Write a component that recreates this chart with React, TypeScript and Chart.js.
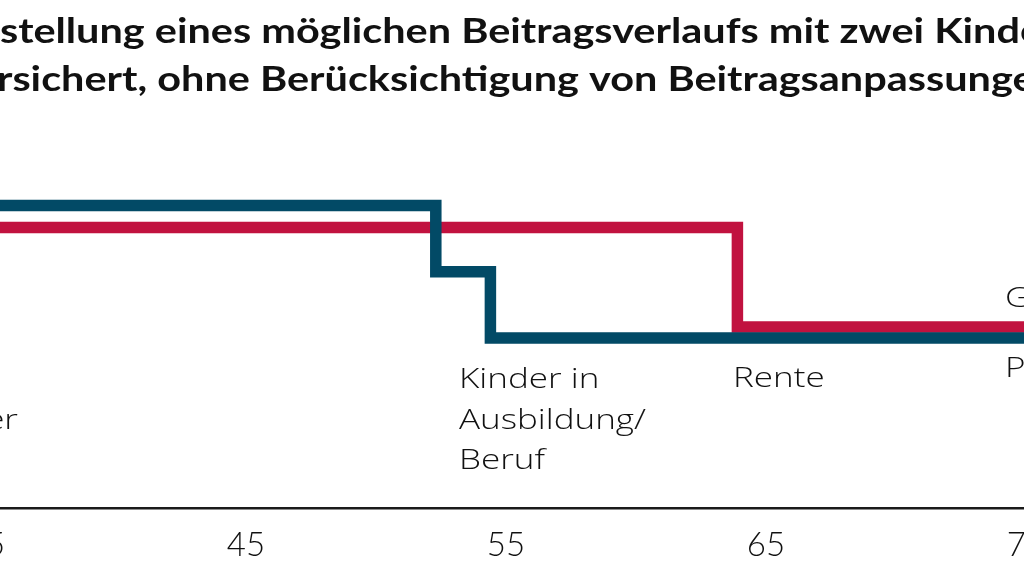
import React, { useEffect, useRef } from 'react';
import { Chart, registerables } from 'chart.js';

Chart.register(...registerables);

// ---- data ----
const tickAges = [35, 45, 55, 65, 75];
const tickLabels = ['35', '45', '55', '65', '75'];

const pkvAges = [35, 52.3, 54.4, 75];
const pkvValues = [89, 69.5, 50, 50];

const gkvAges = [35, 63.9, 75];
const gkvValues = [82.5, 53.2, 53.2];

const seriesNames = ['PKV', 'GKV'];
const seriesColors = ['#024a66', '#c1123f'];

const titleLines = [
  'Darstellung eines möglichen Beitragsverlaufs mit zwei Kindern',
  'mitversichert, ohne Berücksichtigung von Beitragsanpassungen',
];

const phaseLabels = [
  { lines: ['Zwei', 'Kinder'] },
  { lines: ['Kinder in', 'Ausbildung/', 'Beruf'] },
  { lines: ['Rente'] },
];
const seriesLabels = ['GKV', 'PKV'];

// ---- layout (viewport pixels) ----
const VIEW_W = 1024;
const VIEW_H = 585;
const OFF = 100; // canvas shifted left by this amount
const CANVAS_W = 1260;
const AXIS_Y = 508;

const TITLE_FONT = 'Lato, "Open Sans", sans-serif';
const LABEL_FONT = '"Open Sans", Lato, sans-serif';

function drawScaled(ctx: CanvasRenderingContext2D, text: string, x: number, y: number, sx: number) {
  ctx.save();
  ctx.translate(x, y);
  ctx.scale(sx, 1);
  ctx.fillText(text, 0, 0);
  ctx.restore();
}

const textPlugin = {
  id: 'textOverlay',
  afterDraw(chart: any) {
    const ctx: CanvasRenderingContext2D = chart.ctx;
    ctx.save();
    ctx.fillStyle = '#111111';
    ctx.textBaseline = 'alphabetic';
    ctx.textAlign = 'left';

    // Title: visible part of line 1 ("stellung ... Kind") spans ~5..1018
    ctx.font = `700 34px ${TITLE_FONT}`;
    const vis1 = titleLines[0].slice(3, titleLines[0].length - 3);
    const tsx = 1020 / ctx.measureText(vis1).width;
    const pre1 = ctx.measureText(titleLines[0].slice(0, 3)).width * tsx;
    drawScaled(ctx, titleLines[0], OFF + 0 - pre1, 43, tsx);
    const pre2 = ctx.measureText(titleLines[1].slice(0, 5)).width * tsx;
    drawScaled(ctx, titleLines[1], OFF - 3 - pre2, 91, tsx);

    // Phase labels (light), width fitted on "Ausbildung/" = 187px
    ctx.font = `300 28px ${LABEL_FONT}`;
    const lsx = 187 / ctx.measureText(phaseLabels[1].lines[1]).width;
    const lh = 40.5;
    const kW = ctx.measureText(phaseLabels[0].lines[1]).width * lsx;
    const x0 = 18 - kW;
    phaseLabels[0].lines.forEach((t, i) => drawScaled(ctx, t, OFF + x0, 388 + i * lh, lsx));
    phaseLabels[1].lines.forEach((t, i) => drawScaled(ctx, t, OFF + 459, 388 + i * lh, lsx));
    phaseLabels[2].lines.forEach((t, i) => drawScaled(ctx, t, OFF + 733, 387 + i * lh, lsx));

    // Series labels at right
    drawScaled(ctx, seriesLabels[0], OFF + 1005, 307, lsx);
    drawScaled(ctx, seriesLabels[1], OFF + 1005, 377, lsx);
    ctx.restore();
  },
};

export default function App() {
  const ref = useRef<HTMLCanvasElement | null>(null);

  useEffect(() => {
    if (!ref.current) return;
    const chart = new Chart(ref.current, {
      type: 'line',
      data: {
        datasets: [
          {
            label: seriesNames[0],
            data: pkvAges.map((a, i) => ({ x: a, y: pkvValues[i] })),
            borderColor: seriesColors[0],
            backgroundColor: seriesColors[0],
            borderWidth: 11.5,
            stepped: 'before',
            pointRadius: 0,
            borderJoinStyle: 'miter',
            borderCapStyle: 'butt',
            fill: false,
          },
          {
            label: seriesNames[1],
            data: gkvAges.map((a, i) => ({ x: a, y: gkvValues[i] })),
            borderColor: seriesColors[1],
            backgroundColor: seriesColors[1],
            borderWidth: 11.5,
            stepped: 'before',
            pointRadius: 0,
            borderJoinStyle: 'miter',
            borderCapStyle: 'butt',
            fill: false,
          },
        ],
      },
      options: {
        responsive: false,
        animation: false,
        devicePixelRatio: 1,
        layout: {
          padding: { left: OFF - 14, right: CANVAS_W - (OFF + 1026), top: 168, bottom: 0 },
        },
        plugins: {
          legend: { display: false },
          title: { display: false },
          tooltip: { enabled: false },
        },
        scales: {
          x: {
            type: 'linear',
            min: 35,
            max: 75,
            afterBuildTicks: (scale: any) => {
              scale.ticks = tickAges.map((v) => ({ value: v }));
            },
            afterFit: (scale: any) => {
              scale.height = VIEW_H - AXIS_Y;
            },
            grid: { display: false, drawTicks: false },
            border: { display: true, color: '#1a1a1a', width: 2.5 },
            ticks: {
              autoSkip: false,
              maxRotation: 0,
              padding: 18,
              color: '#111111',
              font: { family: 'Lato, "Open Sans", sans-serif', size: 33, weight: 300 },
              callback: (v: any) => {
                const i = tickAges.indexOf(Number(v));
                return i >= 0 ? tickLabels[i] : '';
              },
            },
          },
          y: {
            display: false,
            min: 0,
            max: 100,
          },
        },
      },
      plugins: [textPlugin],
    } as any);
    return () => chart.destroy();
  }, []);

  return (
    <div
      style={{
        position: 'fixed',
        left: 0,
        top: 0,
        width: VIEW_W,
        height: VIEW_H,
        overflow: 'hidden',
        background: '#ffffff',
      }}
    >
      <canvas
        ref={ref}
        width={CANVAS_W}
        height={VIEW_H}
        style={{ position: 'absolute', left: -OFF, top: 0, width: CANVAS_W, height: VIEW_H }}
      />
    </div>
  );
}
